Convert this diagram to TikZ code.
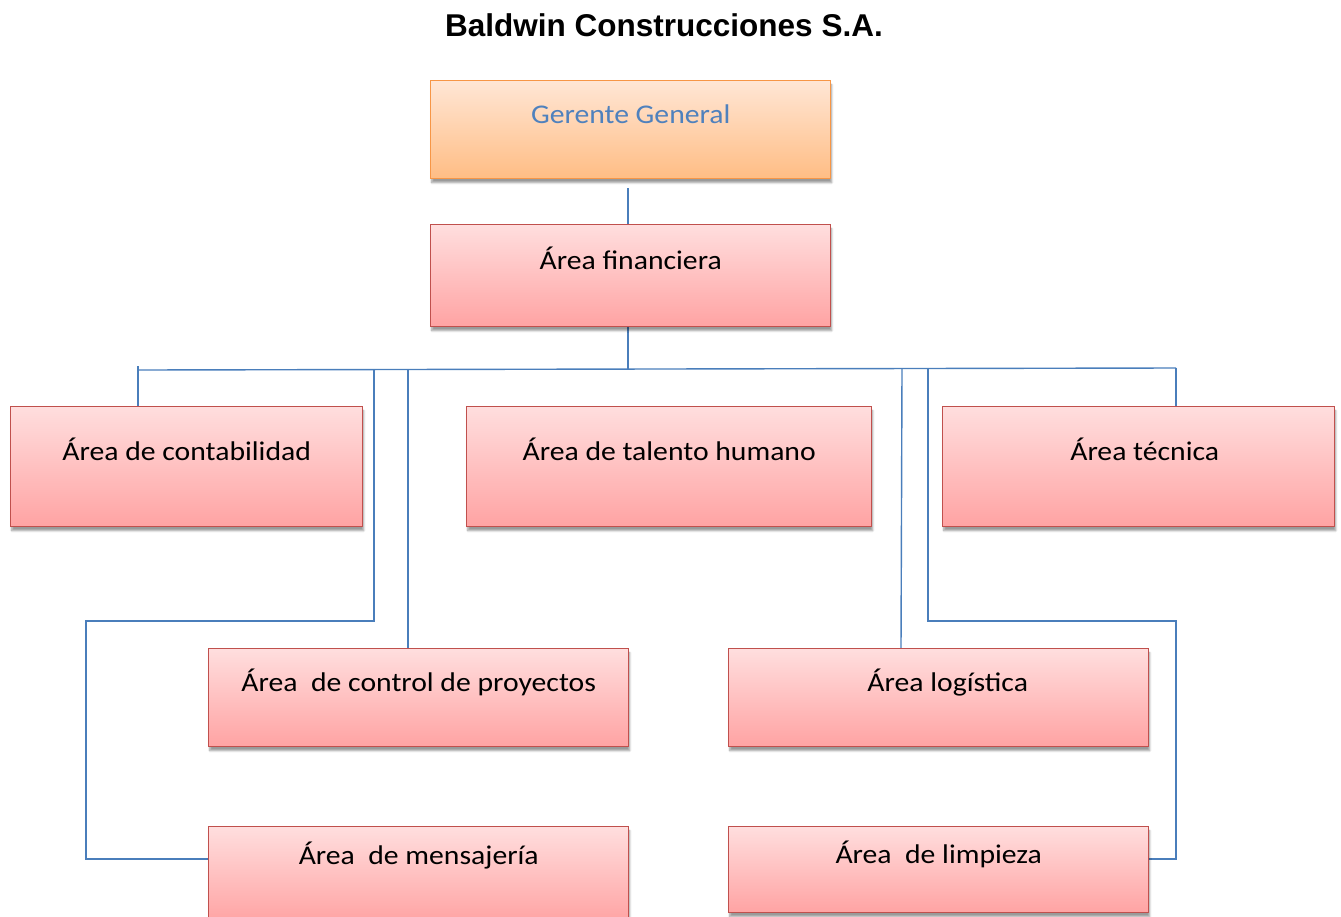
\documentclass[tikz,border=0pt]{standalone}
\usepackage{fontspec}
\usepackage{graphicx}
\setmainfont{Carlito}
\newfontfamily\titlefont{Liberation Sans}
\usetikzlibrary{shadows.blur}
\definecolor{pinktop}{HTML}{FFDEDE}
\definecolor{pinkbot}{HTML}{FFA3A3}
\definecolor{redline}{HTML}{C0504D}
\definecolor{orgtop}{HTML}{FFE6D5}
\definecolor{orgbot}{HTML}{FFBD84}
\definecolor{orgline}{HTML}{F79646}
\definecolor{blueline}{HTML}{4A7EBB}
\definecolor{gtext}{HTML}{4F81BD}
\newcommand{\wide}[1]{\scalebox{1.1}[1]{#1}}
\tikzset{
  box/.style={draw=redline, line width=1.4pt, top color=pinktop, bottom color=pinkbot,
    anchor=north west, inner sep=2pt, text height=19pt, text depth=32pt,
    font=\fontsize{27}{30}\selectfont, align=center,
    blur shadow={shadow xshift=1pt, shadow yshift=-4pt, shadow blur steps=6, shadow opacity=40}},
  gbox/.style={box, draw=orgline, top color=orgtop, bottom color=orgbot, text=gtext},
  conn/.style={draw=blueline, line width=1.4pt}
}
\begin{document}
\begin{tikzpicture}[x=1pt,y=-1pt]
\useasboundingbox (0,0) rectangle (1341,916);
% coordinates
\coordinate (gbot) at (628,188);
\coordinate (busC) at (628,369);
\coordinate (busL) at (138,370);
\coordinate (busR) at (1176,368);
\coordinate (tickL) at (138,366);
\coordinate (a1) at (374,370);
\coordinate (a2) at (374,621);
\coordinate (a3) at (86,621);
\coordinate (a4) at (86,859);
\coordinate (b1) at (408,370);
\coordinate (c1) at (902,369);
\coordinate (c2) at (901,648);
\coordinate (d1) at (928,369);
\coordinate (d2) at (928,621);
\coordinate (d3) at (1176,621);
\coordinate (d4) at (1176,859);
% title
\node[font=\titlefont\bfseries\fontsize{31.5}{34}\selectfont] (title) at (664,25) {Baldwin Construcciones S.A.};
\path (430,80) node[gbox, minimum width=400pt, minimum height=98pt] (gg) {\wide{Gerente General}};
% connectors
\draw[conn] (gbot) -- (gbot |- 224,224);
\draw[conn] (628,326) -- (busC);
\draw[conn] (busL) -- (busR);
\draw[conn] (tickL) -- (138,406);
\draw[conn] (busR) -- (1176,406);
\draw[conn] (a1) -- (a2) -- (a3) -- (a4) -- (208,859);
\draw[conn] (b1) -- (408,648);
\draw[conn] (c1) -- (c2);
\draw[conn] (d1) -- (d2) -- (d3) -- (d4) -- (1148,859);
% boxes
\path (430,224) node[box, minimum width=400pt, minimum height=102pt] (fin) {\wide{Área financiera}};
\path (10,406) node[box, minimum width=352pt, minimum height=120pt] (cont) {\wide{Área de contabilidad}};
\path (466,406) node[box, minimum width=405pt, minimum height=120pt] (tal) {\wide{Área de talento humano}};
\path (942,406) node[box, minimum width=392pt, minimum height=120pt] (tec) {\hspace*{12pt}\wide{Área técnica}};
\path (208,648) node[box, minimum width=420pt, minimum height=98pt] (ctrl) {\wide{Área\ \ de control de proyectos}};
\path (728,648) node[box, minimum width=420pt, minimum height=98pt] (log) {\hspace*{18pt}\wide{Área logística}};
\path (208,826) node[box, minimum width=420pt, minimum height=96pt, text depth=40pt] (men) {\wide{Área\ \ de mensajería}};
\path (728,826) node[box, minimum width=420pt, minimum height=86pt] (lim) {\wide{Área\ \ de limpieza}};
\end{tikzpicture}
\end{document}
